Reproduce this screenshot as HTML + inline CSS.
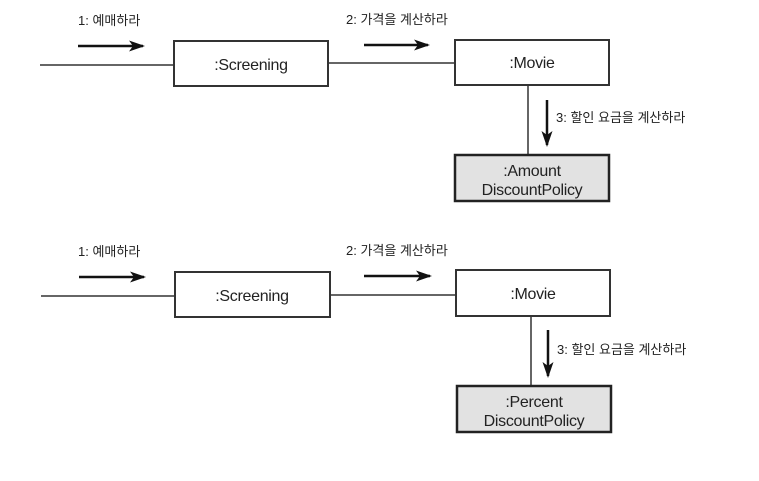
<!DOCTYPE html>
<html><head><meta charset="utf-8"><style>
html,body{margin:0;padding:0;background:#fff;}
text{font-family:"Liberation Sans","Noto Sans CJK KR",sans-serif;fill:#222;}
</style></head><body>
<svg width="759" height="476" viewBox="0 0 759 476" xmlns="http://www.w3.org/2000/svg">
<defs>
<marker id="ah" markerWidth="16" markerHeight="11" refX="14" refY="5.5" orient="auto" markerUnits="userSpaceOnUse">
<path d="M0,0 L16,5.5 L0,11 L4,5.5 Z" fill="#111"/>
</marker>
</defs>
<!-- Diagram 1 -->
<g stroke="#333" stroke-width="1.5" fill="none">
<line x1="40" y1="65" x2="174" y2="65"/>
<line x1="328" y1="63" x2="455" y2="63"/>
<line x1="528" y1="85" x2="528" y2="155"/>
</g>
<g stroke="#111" stroke-width="2.5">
<line x1="78" y1="46" x2="143" y2="46" marker-end="url(#ah)"/>
<line x1="364" y1="45" x2="428" y2="45" marker-end="url(#ah)"/>
<line x1="547" y1="100" x2="547" y2="145" marker-end="url(#ah)"/>
</g>
<rect x="174" y="41" width="154" height="45" fill="#fff" stroke="#333" stroke-width="2"/>
<rect x="455" y="40" width="154" height="45" fill="#fff" stroke="#333" stroke-width="2"/>
<rect x="455" y="155" width="154" height="46" fill="#e2e2e2" stroke="#222" stroke-width="2.5"/>
<text x="78" y="25" font-size="13">1: 예매하라</text>
<text x="346" y="24" font-size="13">2: 가격을 계산하라</text>
<text x="556" y="122" font-size="13">3: 할인 요금을 계산하라</text>
<text x="251" y="70" font-size="16" text-anchor="middle" letter-spacing="-0.3">:Screening</text>
<text x="532" y="68" font-size="16" text-anchor="middle" letter-spacing="-0.3">:Movie</text>
<text x="532" y="176" font-size="16" text-anchor="middle" letter-spacing="-0.3">:Amount</text>
<text x="532" y="195" font-size="16" text-anchor="middle" letter-spacing="-0.3">DiscountPolicy</text>
<!-- Diagram 2 -->
<g stroke="#333" stroke-width="1.5" fill="none">
<line x1="41" y1="296" x2="175" y2="296"/>
<line x1="330" y1="295" x2="456" y2="295"/>
<line x1="531" y1="316" x2="531" y2="386"/>
</g>
<g stroke="#111" stroke-width="2.5">
<line x1="79" y1="277" x2="144" y2="277" marker-end="url(#ah)"/>
<line x1="364" y1="276" x2="430" y2="276" marker-end="url(#ah)"/>
<line x1="548" y1="330" x2="548" y2="376" marker-end="url(#ah)"/>
</g>
<rect x="175" y="272" width="155" height="45" fill="#fff" stroke="#333" stroke-width="2"/>
<rect x="456" y="270" width="154" height="46" fill="#fff" stroke="#333" stroke-width="2"/>
<rect x="457" y="386" width="154" height="46" fill="#e2e2e2" stroke="#222" stroke-width="2.5"/>
<text x="78" y="256" font-size="13">1: 예매하라</text>
<text x="346" y="255" font-size="13">2: 가격을 계산하라</text>
<text x="557" y="354" font-size="13">3: 할인 요금을 계산하라</text>
<text x="252" y="301" font-size="16" text-anchor="middle" letter-spacing="-0.3">:Screening</text>
<text x="533" y="299" font-size="16" text-anchor="middle" letter-spacing="-0.3">:Movie</text>
<text x="534" y="407" font-size="16" text-anchor="middle" letter-spacing="-0.3">:Percent</text>
<text x="534" y="426" font-size="16" text-anchor="middle" letter-spacing="-0.3">DiscountPolicy</text>
</svg>
</body></html>
